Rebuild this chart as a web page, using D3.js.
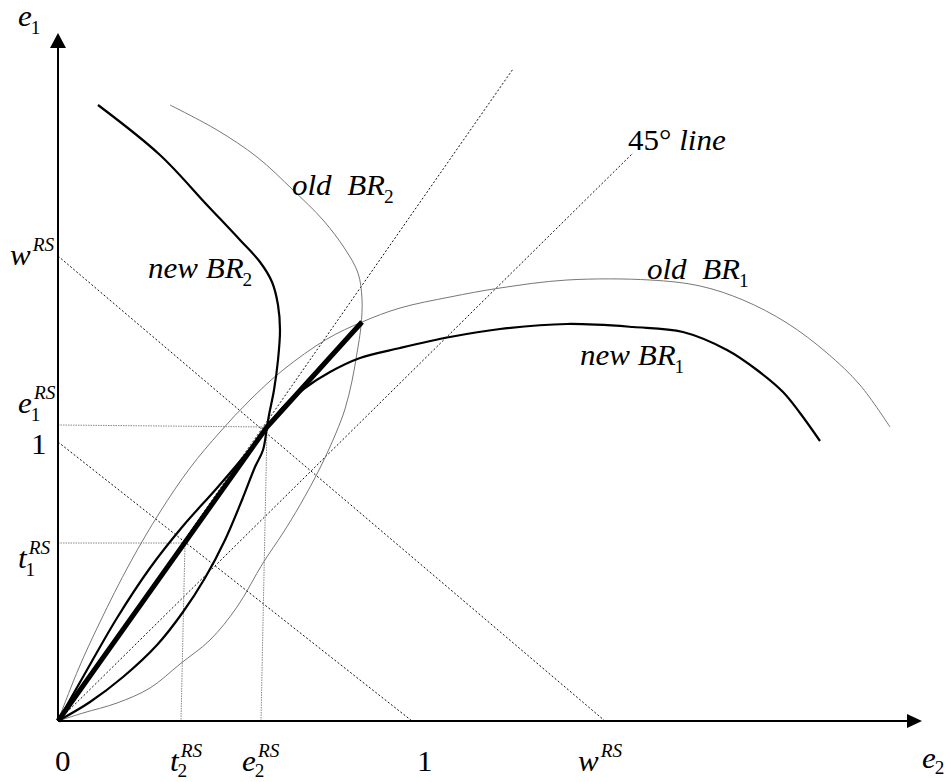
<!DOCTYPE html>
<html><head><meta charset="utf-8">
<script src="https://cdn.jsdelivr.net/npm/d3@7"></script>
<style>
body{margin:0;background:#fff} svg{display:block}
text{font-family:"Liberation Serif","Times New Roman",Times,serif;white-space:pre;fill:#000}
</style>
</head><body><svg id="c" width="947" height="782"></svg>
<script>
// ---- data (e2 on x, e1 on y) ----
const newBR1 = [[0,0],[0.25,0.44],[0.59,1.03],[0.92,1.53],[1.25,1.95],[1.59,2.33],[1.92,2.72],[2.09,2.94],[2.27,3.16],[2.47,3.33],[2.72,3.49],[3.02,3.63],[3.42,3.73],[3.92,3.84],[4.42,3.92],[5.09,3.97],[5.75,3.94],[6.25,3.89],[6.69,3.71],[6.99,3.51],[7.25,3.29],[7.42,3.08],[7.62,2.80]];
const newBR2 = [[0.40,6.16],[1.02,5.66],[1.49,5.16],[1.82,4.81],[2.02,4.59],[2.14,4.39],[2.20,4.16],[2.22,3.91],[2.20,3.61],[2.16,3.31],[2.11,3.06],[2.09,2.94],[2.05,2.71],[1.97,2.54],[1.84,2.21],[1.67,1.81],[1.47,1.43],[1.25,1.09],[0.99,0.76],[0.65,0.44],[0.32,0.19],[0,0]];
const oldBR1 = [[0,0],[0.20,0.51],[0.42,0.99],[0.72,1.58],[1.02,2.09],[1.32,2.53],[1.62,2.89],[1.92,3.21],[2.25,3.51],[2.69,3.82],[3.04,3.99],[3.42,4.13],[3.92,4.24],[4.42,4.33],[5.09,4.41],[5.92,4.41],[6.42,4.35],[6.85,4.21],[7.29,3.98],[7.69,3.68],[8.02,3.36],[8.32,2.94]];
const oldBR2 = [[1.12,6.16],[1.59,5.91],[1.99,5.64],[2.35,5.31],[2.65,5.01],[2.87,4.72],[3.00,4.48],[3.04,4.22],[3.03,3.95],[2.99,3.68],[2.94,3.40],[2.87,3.12],[2.78,2.88],[2.62,2.53],[2.42,2.16],[2.25,1.88],[2.05,1.58],[1.79,1.14],[1.52,0.81],[1.22,0.57],[0.92,0.33],[0.59,0.18],[0.25,0.08],[0,0]];
const thickPath = [[0,0],[2.09,2.94],[3.04,3.99]];
const rayThroughE = [[0,0],[4.55,6.52]];
const line45 = [[0,0],[5.75,5.68]];
const lineOne = [[0,2.79],[3.54,0]];
const lineW = [[0,4.65],[5.47,0]];
const guides = [[[0,2.96],[2.09,2.94]],[[2.09,2.94],[2.03,0]],[[0,1.78],[1.27,1.78]],[[1.27,1.78],[1.23,0]]];
const xTickValues = [0, 1.23, 2.03, 3.54, 5.47];
const xTickMain = ["0","t","e","1","w"];
const xTickSub = ["","2","2","",""];
const xTickSup = ["","RS","RS","","RS"];
const yTickValues = [4.65, 2.96, 2.79, 1.78];
const yTickMain = ["w","e","1","t"];
const yTickSub = ["","1","","1"];
const yTickSup = ["RS","RS","","RS"];
const xMax = 8.64, yMax = 6.88;

// ---- scales ----
const x = d3.scaleLinear().domain([0, xMax]).range([58, 922]);
const y = d3.scaleLinear().domain([0, yMax]).range([721, 33]);
const svg = d3.select("#c");
const line = d3.line().x(d => x(d[0])).y(d => y(d[1]));
const curve = d3.line().x(d => x(d[0])).y(d => y(d[1])).curve(d3.curveCatmullRom.alpha(0.5));

// dashed black lines
[rayThroughE, line45, lineOne, lineW].forEach(d => {
  svg.append("path").attr("d", line(d)).attr("fill","none").attr("stroke","#111")
    .attr("stroke-width",1).attr("stroke-dasharray","2,2");
});
// gray dotted guides
guides.forEach(d => {
  svg.append("path").attr("d", line(d)).attr("fill","none").attr("stroke","#888")
    .attr("stroke-width",1).attr("stroke-dasharray","1.5,1");
});
// old BR curves
[oldBR1, oldBR2].forEach(d => {
  svg.append("path").attr("d", curve(d)).attr("fill","none").attr("stroke","#777").attr("stroke-width",1);
});
// new BR curves
[newBR1, newBR2].forEach(d => {
  svg.append("path").attr("d", curve(d)).attr("fill","none").attr("stroke","#000").attr("stroke-width",2.2);
});
// thick segment
svg.append("path").attr("d", line(thickPath)).attr("fill","none").attr("stroke","#000")
  .attr("stroke-width",5).attr("stroke-linejoin","round");

// axes
svg.append("line").attr("x1",x(0)).attr("y1",y(0)).attr("x2",x(xMax)-10).attr("y2",y(0)).attr("stroke","#000").attr("stroke-width",2);
svg.append("line").attr("x1",x(0)).attr("y1",y(0)).attr("x2",x(0)).attr("y2",y(yMax)+10).attr("stroke","#000").attr("stroke-width",2);
svg.append("path").attr("d",`M${x(xMax)},${y(0)} L${x(xMax)-15},${y(0)-7} L${x(xMax)-15},${y(0)+7} Z`).attr("fill","#000");
svg.append("path").attr("d",`M${x(0)},${y(yMax)} L${x(0)-8},${y(yMax)+15} L${x(0)+8},${y(yMax)+15} Z`).attr("fill","#000");

// ---- labels ----
const SX = 1.07, FS = 29, SFS = 18;
function label(px, py, main, opts) {
  opts = opts || {};
  const g = svg.append("g").attr("transform", `translate(${px},${py}) scale(${SX},1)`);
  const t = g.append("text").attr("x",0).attr("y",0).attr("font-size",FS)
    .style("font-style", opts.upright ? "normal" : "italic").text(main);
  let w = t.node().getComputedTextLength();
  if (opts.extra) {
    const t2 = g.append("text").attr("x", w).attr("y",0).attr("font-size",FS)
      .style("font-style","italic").text(opts.extra);
    w += t2.node().getComputedTextLength();
  }
  const sdy = opts.subDy != null ? opts.subDy : 8;
  if (opts.sub) g.append("text").attr("x", w - 1).attr("y", sdy).attr("font-size",SFS).text(opts.sub);
  if (opts.sup) g.append("text").attr("x", w + 2).attr("y", -14).attr("font-size",SFS)
    .style("font-style","italic").text(opts.sup);
}
// axis titles
label(18, 26, "e", {sub:"1"});
label(922, 768, "e", {sub:"2", subDy:6});
// x tick labels
const xOff = [-3, -11, -19, 5, -27];
xTickValues.forEach((v,i) => {
  label(x(v) + xOff[i], 771, xTickMain[i], {sub: xTickSub[i], sup: xTickSup[i], subDy:6, upright: /\d/.test(xTickMain[i])});
});
// y tick labels
const yDy = [9, -12, 12, 25];
yTickValues.forEach((v,i) => {
  const px = /\d/.test(yTickMain[i]) ? 31 : (i === 0 ? 10 : 18);
  label(px, y(v) + yDy[i], yTickMain[i], {sub: yTickSub[i], sup: yTickSup[i], upright: /\d/.test(yTickMain[i])});
});
// curve labels
label(148, 278, "new BR", {sub:"2"});
label(292, 195, "old  BR", {sub:"2"});
label(647, 279, "old  BR", {sub:"1"});
label(580, 365, "new BR", {sub:"1"});
label(628, 150, "45° ", {upright:true, extra:"line"});
</script></body></html>
